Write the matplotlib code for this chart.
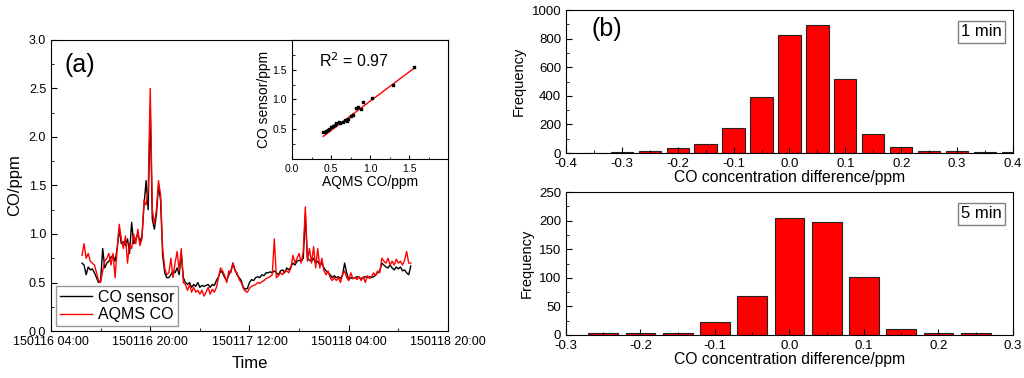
import matplotlib
matplotlib.use('Agg')
import matplotlib.pyplot as plt
import matplotlib.dates as mdates
from matplotlib.ticker import MultipleLocator, FixedLocator, FormatStrFormatter
import numpy as np
import pandas as pd

plt.rcParams['font.family'] = ['Liberation Sans', 'DejaVu Sans']

# time series (20-min values, 150116 09:00 -> 150118 14:00)
times = pd.date_range('2015-01-16 09:00', '2015-01-18 14:00', freq='20min')
co_sensor = [
    0.70, 0.68, 0.58, 0.66, 0.63, 0.64, 0.60, 0.55, 0.50, 0.52, 0.85, 0.65,
    0.70, 0.72, 0.76, 0.78, 0.72, 0.85, 1.05, 0.90, 0.92, 0.88, 0.95, 0.80,
    1.12, 0.90, 0.95, 1.00, 0.92, 0.98, 1.30, 1.55, 1.25, 2.30, 1.15, 1.05,
    1.20, 1.50, 1.35, 0.78, 0.60, 0.55, 0.55, 0.58, 0.62, 0.60, 0.65, 0.58,
    0.80, 0.55, 0.50, 0.48, 0.50, 0.45, 0.48, 0.46, 0.50, 0.45, 0.47, 0.46,
    0.47, 0.48, 0.45, 0.48, 0.47, 0.52, 0.56, 0.62, 0.60, 0.55, 0.52, 0.58,
    0.62, 0.70, 0.63, 0.58, 0.55, 0.52, 0.45, 0.43, 0.44, 0.50, 0.53, 0.52,
    0.55, 0.56, 0.55, 0.58, 0.57, 0.60, 0.60, 0.61, 0.60, 0.62, 0.60, 0.58,
    0.62, 0.63, 0.60, 0.65, 0.63, 0.66, 0.70, 0.68, 0.72, 0.73, 0.72, 0.75,
    1.20, 0.75, 0.73, 0.72, 0.75, 0.70, 0.72, 0.68, 0.70, 0.65, 0.62, 0.60,
    0.58, 0.55, 0.57, 0.55, 0.56, 0.54, 0.58, 0.70, 0.60, 0.53, 0.55, 0.54,
    0.55, 0.56, 0.55, 0.54, 0.55, 0.56, 0.55, 0.56, 0.55, 0.56, 0.58, 0.60,
    0.62, 0.70, 0.68, 0.66, 0.65, 0.68, 0.65, 0.63, 0.66, 0.64, 0.66, 0.62,
    0.63, 0.60, 0.58, 0.67,
]
aqms_co = [
    0.78, 0.90, 0.75, 0.80, 0.72, 0.70, 0.68, 0.60, 0.52, 0.50, 0.62, 0.72,
    0.75, 0.80, 0.68, 0.80, 0.55, 0.85, 1.10, 0.95, 0.85, 0.98, 0.70, 0.90,
    0.85, 1.00, 0.90, 1.05, 0.88, 0.95, 1.35, 1.30, 1.45, 2.50, 1.25, 1.10,
    1.25, 1.55, 1.40, 0.85, 0.65, 0.58, 0.60, 0.75, 0.55, 0.70, 0.82, 0.62,
    0.85, 0.50, 0.48, 0.42, 0.48, 0.40, 0.45, 0.40, 0.42, 0.38, 0.42, 0.36,
    0.40, 0.45, 0.38, 0.43, 0.40, 0.45, 0.55, 0.65, 0.62, 0.57, 0.50, 0.62,
    0.60, 0.70, 0.62, 0.60, 0.53, 0.50, 0.44, 0.41, 0.40, 0.44, 0.46, 0.47,
    0.48, 0.50, 0.49, 0.51, 0.52, 0.54, 0.55, 0.56, 0.58, 0.95, 0.55, 0.57,
    0.60, 0.58, 0.62, 0.62, 0.60, 0.65, 0.78, 0.70, 0.75, 0.80, 0.70, 0.82,
    1.28, 0.72, 0.85, 0.70, 0.87, 0.65, 0.85, 0.65, 0.75, 0.62, 0.58, 0.62,
    0.55, 0.52, 0.55, 0.52, 0.55, 0.50, 0.58, 0.62, 0.55, 0.52, 0.60, 0.54,
    0.55, 0.53, 0.56, 0.52, 0.56, 0.50, 0.57, 0.54, 0.56, 0.60, 0.57, 0.62,
    0.60, 0.75, 0.72, 0.70, 0.75, 0.68, 0.72, 0.68, 0.74, 0.70, 0.72, 0.68,
    0.73, 0.82, 0.70, 0.70,
]

# inset scatter (hourly means)
aqms_hourly = [0.40, 0.42, 0.44, 0.46, 0.48, 0.50, 0.52, 0.55, 0.57, 0.60, 0.62,
               0.65, 0.68, 0.70, 0.72, 0.75, 0.78, 0.82, 0.85, 0.88, 0.91, 1.02,
               1.30, 1.57]
sensor_hourly = [0.45, 0.46, 0.47, 0.49, 0.50, 0.53, 0.55, 0.57, 0.60, 0.62, 0.60,
                 0.63, 0.66, 0.64, 0.67, 0.72, 0.74, 0.86, 0.87, 0.84, 0.95, 1.02,
                 1.24, 1.54]
fit_slope, fit_intercept = 0.983, -0.013
fit_range = [0.40, 1.57]

# histograms of concentration difference
diff_1min = [-0.40, -0.35, -0.30, -0.25, -0.20, -0.15, -0.10, -0.05, 0.00,
             0.05, 0.10, 0.15, 0.20, 0.25, 0.30, 0.35, 0.40]
freq_1min = [3, 3, 5, 12, 38, 66, 172, 395, 824, 899, 515, 136, 42, 16, 16, 7, 5]
diff_5min = [-0.25, -0.20, -0.15, -0.10, -0.05, 0.00, 0.05, 0.10, 0.15, 0.20, 0.25]
freq_5min = [3, 3, 3, 22, 69, 205, 197, 102, 11, 3, 3]

fig = plt.figure(figsize=(10.24, 3.78), dpi=100)

# ---- (a) time series ----
ax = fig.add_axes([0.0498, 0.1243, 0.3877, 0.770])
ax.plot(times, co_sensor, color='black', lw=1.0, label='CO sensor')
ax.plot(times, aqms_co, color='red', lw=1.0, label='AQMS CO')
ax.set_xlim(pd.Timestamp('2015-01-16 04:00'), pd.Timestamp('2015-01-18 20:00'))
ax.set_ylim(0, 3.0)
ax.xaxis.set_major_locator(FixedLocator(mdates.date2num(
    pd.date_range('2015-01-16 04:00', '2015-01-18 20:00', freq='16h'))))
ax.xaxis.set_minor_locator(FixedLocator(mdates.date2num(
    pd.date_range('2015-01-16 12:00', '2015-01-18 12:00', freq='16h'))))
ax.xaxis.set_major_formatter(mdates.DateFormatter('%y%m%d %H:%M'))
ax.yaxis.set_major_locator(MultipleLocator(0.5))
ax.yaxis.set_minor_locator(MultipleLocator(0.25))
ax.yaxis.set_major_formatter(FormatStrFormatter('%.1f'))
ax.tick_params(which='both', direction='in', labelsize=9, top=False, right=False)
ax.tick_params(which='major', length=4)
ax.tick_params(which='minor', length=2.5)
ax.set_xlabel('Time', fontsize=12, labelpad=6)
ax.set_ylabel('CO/ppm', fontsize=12, labelpad=5)
ax.text(0.033, 0.955, '(a)', transform=ax.transAxes, fontsize=18, va='top')
leg = ax.legend(loc='lower left', fontsize=11.5, frameon=True, fancybox=False,
                borderaxespad=0.3, handlelength=2.0, borderpad=0.25,
                labelspacing=0.15, handletextpad=0.4)
leg.get_frame().set_edgecolor('gray')

# inset
axi = fig.add_axes([0.2852, 0.5794, 0.1523, 0.3148])
axi.scatter(aqms_hourly, sensor_hourly, s=4, color='black', marker='s', zorder=3)
fx = np.array(fit_range)
axi.plot(fx, fit_slope * fx + fit_intercept, color='red', lw=1.0)
axi.set_xlim(0, 2.0)
axi.set_ylim(0, 2.0)
axi.set_xticks([0.0, 0.5, 1.0, 1.5])
axi.set_yticks([0.5, 1.0, 1.5])
axi.xaxis.set_minor_locator(MultipleLocator(0.25))
axi.yaxis.set_minor_locator(MultipleLocator(0.25))
axi.xaxis.set_major_formatter(FormatStrFormatter('%.1f'))
axi.yaxis.set_major_formatter(FormatStrFormatter('%.1f'))
axi.tick_params(which='both', direction='in', labelsize=7.5, top=False, right=False)
axi.tick_params(which='major', length=3)
axi.tick_params(which='minor', length=1.8)
axi.set_xlabel('AQMS CO/ppm', fontsize=10, labelpad=1)
axi.set_ylabel('CO sensor/ppm', fontsize=10, labelpad=1)
axi.text(0.17, 0.77, 'R$^2$ = 0.97', transform=axi.transAxes, fontsize=11.5)

# ---- (b) histograms ----
def draw_hist(rect, x, y, xmax, ymax, ymaj, label):
    a = fig.add_axes(rect)
    a.bar(x, y, width=0.04, color='red', edgecolor='#222222', linewidth=0.8)
    a.set_xlim(-xmax, xmax)
    a.set_ylim(0, ymax)
    a.xaxis.set_major_locator(MultipleLocator(0.1))
    a.xaxis.set_minor_locator(MultipleLocator(0.05))
    a.yaxis.set_major_locator(MultipleLocator(ymaj))
    a.yaxis.set_minor_locator(MultipleLocator(ymaj / 2))
    a.xaxis.set_major_formatter(FormatStrFormatter('%.1f'))
    a.tick_params(which='both', direction='in', labelsize=9.5, top=False, right=False)
    a.tick_params(which='major', length=4)
    a.tick_params(which='minor', length=2.5)
    a.set_xlabel('CO concentration difference/ppm', fontsize=11.3, labelpad=0)
    a.set_ylabel('Frequency', fontsize=10.5)
    a.text(0.975, 0.9, label, transform=a.transAxes, fontsize=12, ha='right', va='top',
           bbox=dict(boxstyle='square,pad=0.2', facecolor='white', edgecolor='gray', lw=1))
    return a

ax_b1 = draw_hist([0.5527, 0.5952, 0.4365, 0.378], diff_1min, freq_1min, 0.4, 1000, 200, '1 min')
ax_b1.text(0.058, 0.95, '(b)', transform=ax_b1.transAxes, fontsize=18, va='top')
draw_hist([0.5527, 0.1138, 0.4365, 0.378], diff_5min, freq_5min, 0.3, 250, 50, '5 min')

fig.savefig('out.png', dpi=100)
